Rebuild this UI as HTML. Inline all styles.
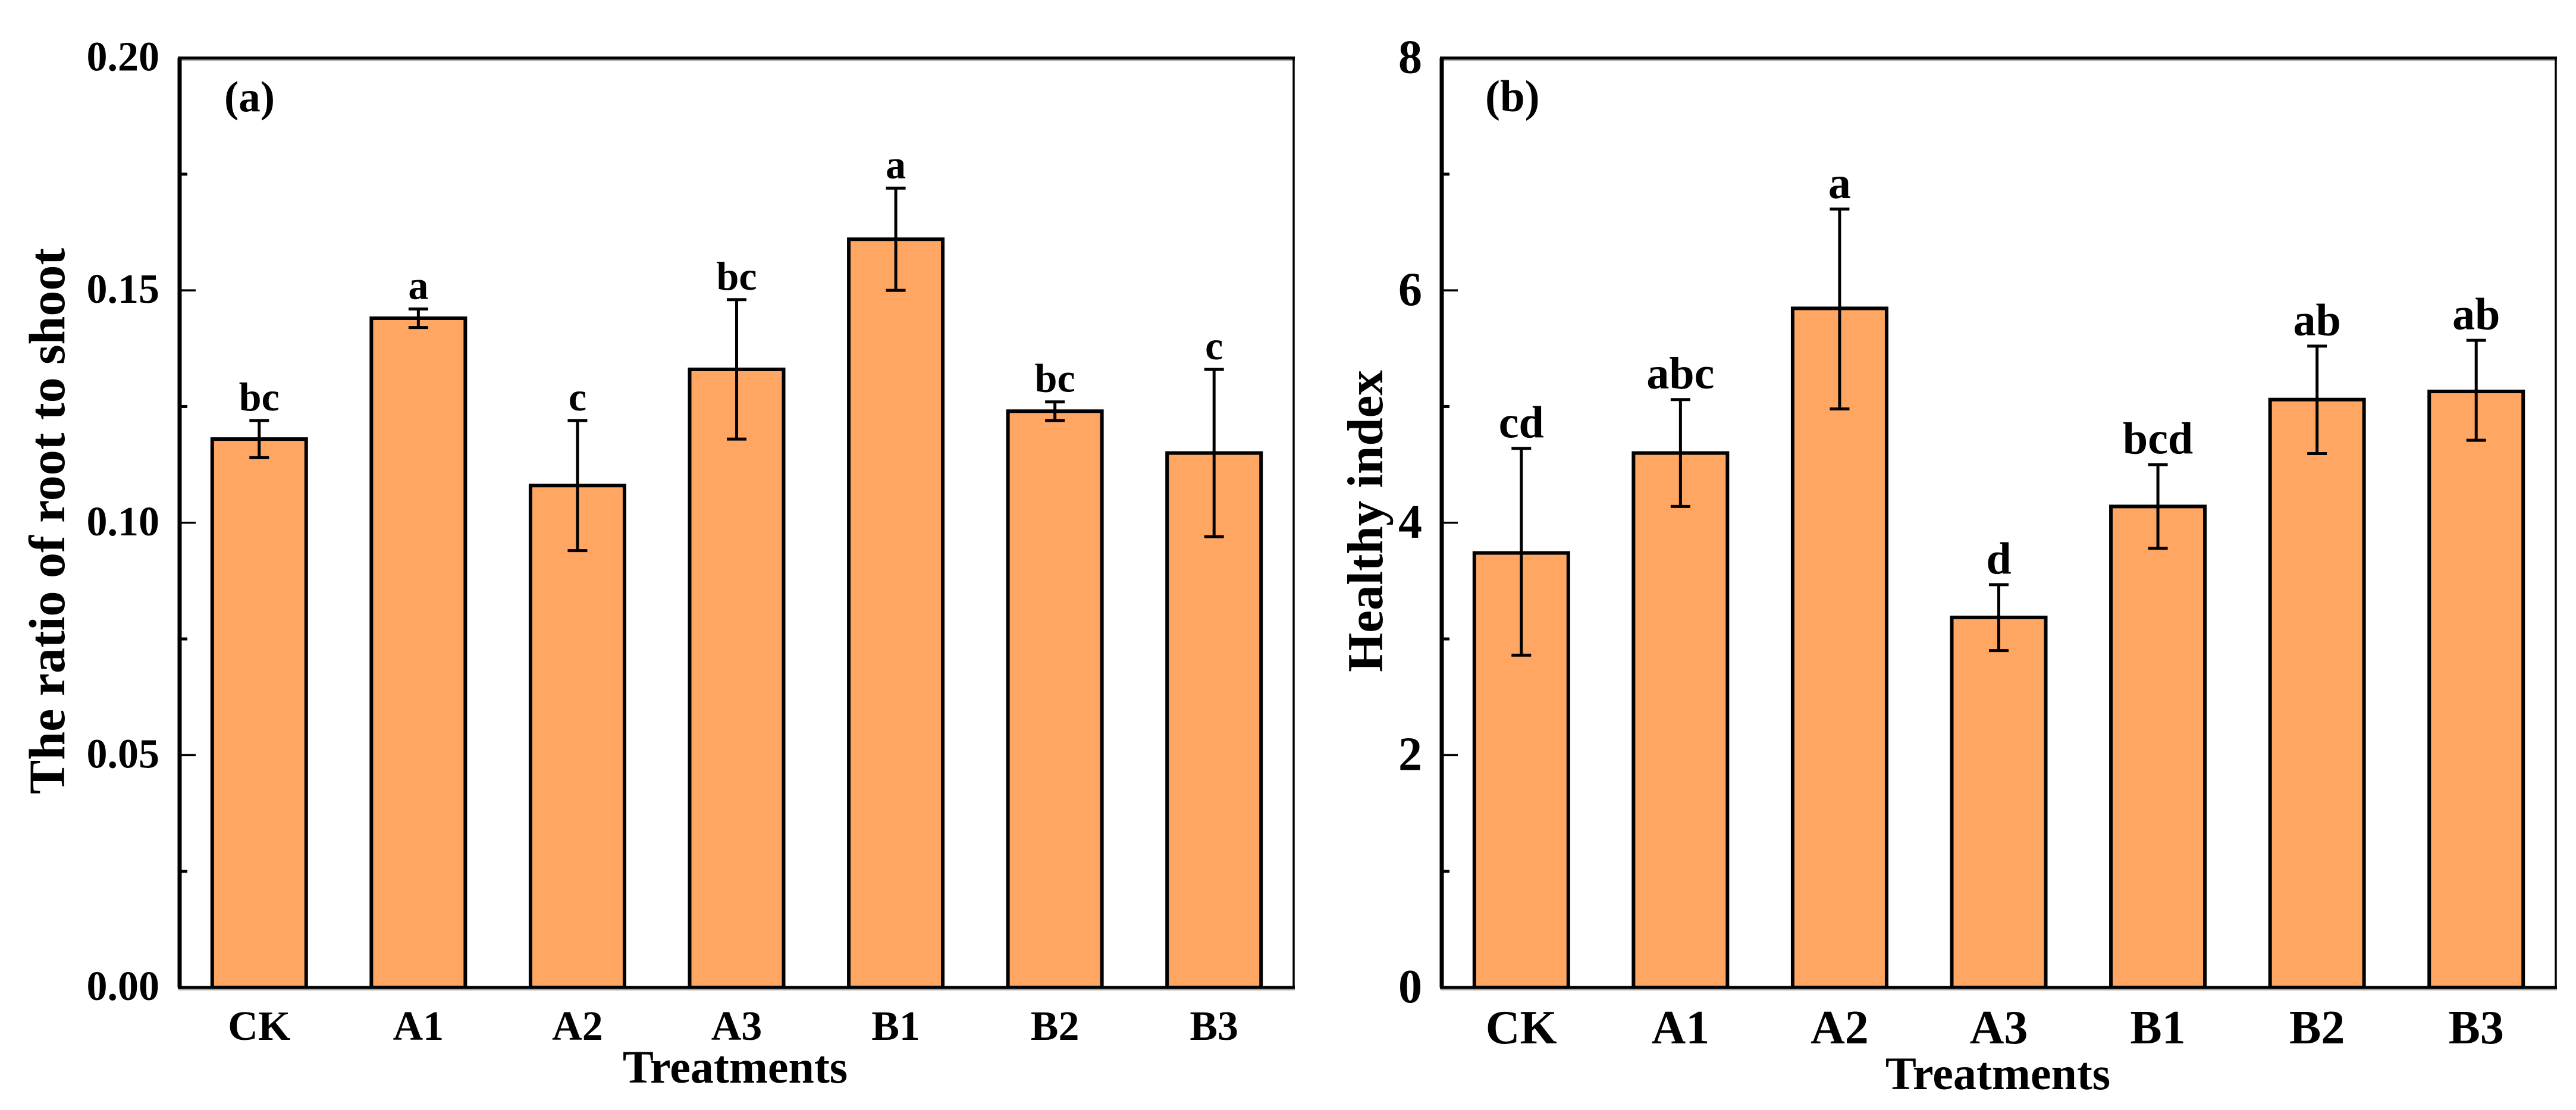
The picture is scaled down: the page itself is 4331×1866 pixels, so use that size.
<!DOCTYPE html>
<html lang="en">
<head>
<meta charset="utf-8">
<title>Root to shoot ratio and healthy index by treatment</title>
<style>
  html, body { margin: 0; padding: 0; background: #fff; }
  svg { display: block; }
  text { font-family: "Liberation Serif", "Times New Roman", serif; font-weight: bold; fill: #000; }
</style>
</head>
<body>
<svg id="figure" xmlns="http://www.w3.org/2000/svg" width="4331" height="1866" viewBox="0 0 4331 1866">
  <rect x="0" y="0" width="4331" height="1866" fill="#ffffff"></rect>
</svg>
<script>
const categories = ["CK", "A1", "A2", "A3", "B1", "B2", "B3"];

const ratioValues = [0.118, 0.144, 0.108, 0.133, 0.161, 0.124, 0.115];
const ratioErrUpper = [0.122, 0.146, 0.122, 0.148, 0.172, 0.126, 0.133];
const ratioErrLower = [0.114, 0.142, 0.094, 0.118, 0.150, 0.122, 0.097];
const ratioLetters = ["bc", "a", "c", "bc", "a", "bc", "c"];
const ratioTickValues = [0, 0.05, 0.10, 0.15, 0.20];
const ratioTickLabels = ["0.00", "0.05", "0.10", "0.15", "0.20"];

const healthValues = [3.74, 4.60, 5.845, 3.185, 4.14, 5.06, 5.13];
const healthErrUpper = [4.64, 5.06, 6.70, 3.467, 4.50, 5.52, 5.57];
const healthErrLower = [2.86, 4.14, 4.98, 2.90, 3.78, 4.595, 4.71];
const healthLetters = ["cd", "abc", "a", "d", "bcd", "ab", "ab"];
const healthTickValues = [0, 2, 4, 6, 8];
const healthTickLabels = ["0", "2", "4", "6", "8"];

const SVG_NS = "http://www.w3.org/2000/svg";
const figure = document.getElementById("figure");

function make(tag, attrs, parent, content) {
  const node = document.createElementNS(SVG_NS, tag);
  for (const key in attrs) node.setAttribute(key, attrs[key]);
  if (content !== undefined) node.textContent = content;
  parent.appendChild(node);
  return node;
}

function drawPanel(p) {
  const group = make("g", {}, figure);
  
  

  const yMax = p.tickValues[p.tickValues.length - 1];
  const yScale = v => p.bottom - (v / yMax) * (p.bottom - p.top);
  const band = (p.right - p.left) / categories.length;
  const xScale = i => p.left + (i + 0.5) * band;

  categories.forEach((cat, i) => {
    const cx = xScale(i);
    const top = yScale(p.values[i]);
    const bar = make("rect", {
      x: cx - p.barWidth / 2, y: top, width: p.barWidth, height: p.bottom - top,
      fill: "#FFA662", stroke: "#000", "stroke-width": 6
    }, group);
    
    

    const yHi = yScale(p.errUpper[i]);
    const yLo = yScale(p.errLower[i]);
    const stem = make("line", { x1: cx, x2: cx, y1: yHi, y2: yLo, stroke: "#000", "stroke-width": 5 }, group);
    
    

    const capTop = make("line", { x1: cx - 16.5, x2: cx + 16.5, y1: yHi, y2: yHi, stroke: "#000", "stroke-width": 5 }, group);
    
    

    const capBottom = make("line", { x1: cx - 16.5, x2: cx + 16.5, y1: yLo, y2: yLo, stroke: "#000", "stroke-width": 5 }, group);
    
    

    const letter = make("text", {
      x: cx, y: yHi - p.letterGap, "text-anchor": "middle", "font-size": p.letterSize
    }, group, p.letters[i]);
    
    

    const catLabel = make("text", {
      x: cx, y: p.catBaseline, "text-anchor": "middle", "font-size": p.catSize
    }, group, cat);
    
    
  });

  // shadow bands under horizontal frame lines
  const shadowTop = make("rect", { x: p.left - 2, y: p.top + 2, width: p.right - p.left + 4, height: 3, fill: "#aaaaaa" }, group);
  
  
  const shadowBottom = make("rect", { x: p.left - 2, y: p.bottom + 2, width: p.right - p.left + 4, height: 3, fill: "#aaaaaa" }, group);
  
  

  // frame
  const axisTop = make("line", { x1: p.left - 3, x2: p.right + 2, y1: p.top, y2: p.top, stroke: "#000", "stroke-width": 5 }, group);
  
  
  const axisBottom = make("line", { x1: p.left - 3, x2: p.right + 2, y1: p.bottom, y2: p.bottom, stroke: "#000", "stroke-width": 5 }, group);
  
  
  const axisLeft = make("line", { x1: p.left, x2: p.left, y1: p.top, y2: p.bottom, stroke: "#000", "stroke-width": 7 }, group);
  
  
  const axisRight = make("line", { x1: p.right, x2: p.right, y1: p.top, y2: p.bottom, stroke: "#000", "stroke-width": 3.5 }, group);
  
  

  // y ticks
  p.tickValues.forEach((v, i) => {
    const y = yScale(v);
    if (i > 0 && i < p.tickValues.length - 1) {
      const tick = make("line", { x1: p.left, x2: p.left + 27, y1: y, y2: y, stroke: "#000", "stroke-width": 3.5 }, group);
      
      
    }
    const label = make("text", {
      x: p.tickRight, y: y + p.tickDrop, "text-anchor": "end", "font-size": p.tickSize
    }, group, p.tickLabels[i]);
    
    
    if (i < p.tickValues.length - 1) {
      const midY = yScale((v + p.tickValues[i + 1]) / 2);
      const minor = make("line", { x1: p.left, x2: p.left + 13, y1: midY, y2: midY, stroke: "#000", "stroke-width": 5 }, group);
      
      
    }
  });

  // titles
  const xTitle = make("text", {
    x: p.xTitleX, y: p.xTitleBaseline, "text-anchor": "middle", "font-size": p.xTitleSize
  }, group, "Treatments");
  
  

  const yTitle = make("text", {
    transform: "translate(" + p.yTitleX + "," + p.yTitleY + ") rotate(-90)",
    "text-anchor": "middle", "font-size": p.yTitleSize
  }, group, p.yTitle);
  
  

  const tag = make("text", {
    x: p.tagX, y: p.tagBaseline, "font-size": p.tagSize
  }, group, p.tag);
  
  
}

drawPanel({
  id: "ratio", left: 302, right: 2175, top: 97.5, bottom: 1660, barWidth: 158,
  values: ratioValues, errUpper: ratioErrUpper, errLower: ratioErrLower, letters: ratioLetters,
  tickValues: ratioTickValues, tickLabels: ratioTickLabels,
  letterGap: 17, letterSize: 68, catBaseline: 1748, catSize: 70,
  tickRight: 268, tickDrop: 21, tickSize: 70,
  xTitleX: 1236, xTitleBaseline: 1820, xTitleSize: 78,
  yTitle: "The ratio of root to shoot", yTitleX: 108, yTitleY: 876, yTitleSize: 86,
  tag: "(a)", tagX: 377, tagBaseline: 187, tagSize: 73
});

drawPanel({
  id: "health", left: 2424, right: 4297, top: 97.5, bottom: 1660, barWidth: 158,
  values: healthValues, errUpper: healthErrUpper, errLower: healthErrLower, letters: healthLetters,
  tickValues: healthTickValues, tickLabels: healthTickLabels,
  letterGap: 18.5, letterSize: 76, catBaseline: 1754, catSize: 80,
  tickRight: 2391, tickDrop: 25, tickSize: 80,
  xTitleX: 3359, xTitleBaseline: 1831, xTitleSize: 78,
  yTitle: "Healthy index", yTitleX: 2324, yTitleY: 876, yTitleSize: 85,
  tag: "(b)", tagX: 2497, tagBaseline: 187, tagSize: 75
});
</script>
</body>
</html>
